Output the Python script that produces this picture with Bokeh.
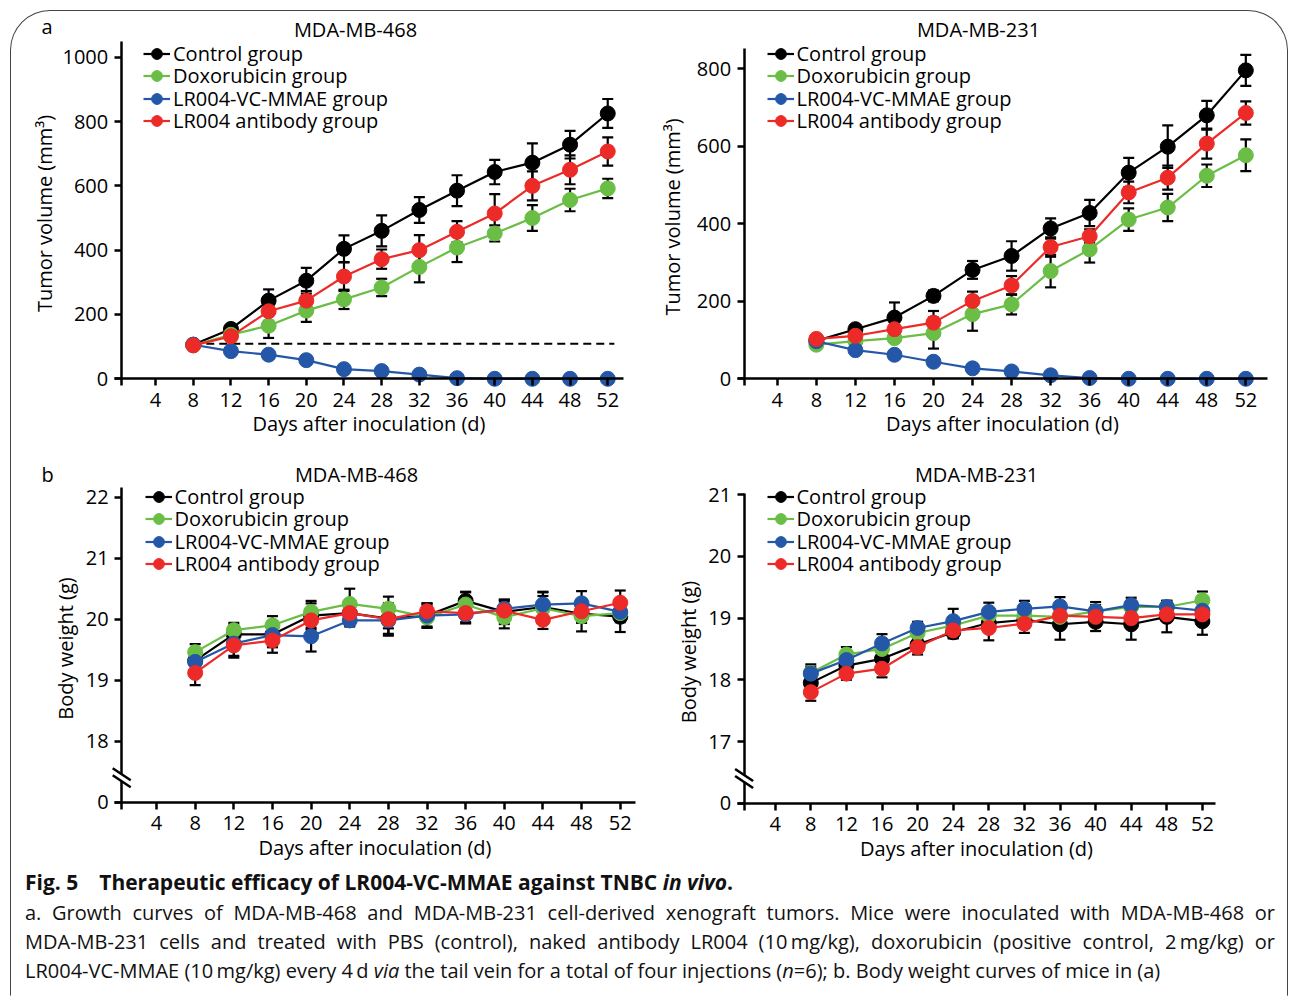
from bokeh.plotting import figure
from bokeh.models import (LinearAxis, FixedTicker, Label, Legend, LegendItem,
                          ColumnDataSource, Whisker, TeeHead, Div, Range1d, InlineStyleSheet)
from bokeh.layouts import column, row
from bokeh.embed import file_html
from bokeh.resources import INLINE

FONT = "Open Sans"

# ---------------- data ----------------
days = [8, 12, 16, 20, 24, 28, 32, 36, 40, 44, 48, 52]
x_ticks = [4, 8, 12, 16, 20, 24, 28, 32, 36, 40, 44, 48, 52]
group_names = ["Control group", "Doxorubicin group", "LR004-VC-MMAE group", "LR004 antibody group"]
group_colors = ["#000000", "#6abd45", "#2457a8", "#ec2a27"]

# a. Tumor volume, MDA-MB-468 (mm3): mean / error
tv468_control = [106, 155, 243, 305, 404, 460, 525, 585, 643, 672, 728, 825]
tv468_control_err = [6, 10, 35, 40, 42, 48, 40, 48, 38, 60, 43, 45]
tv468_dox = [104, 137, 165, 212, 247, 284, 348, 408, 452, 500, 556, 592]
tv468_dox_err = [5, 8, 38, 35, 30, 27, 48, 45, 25, 40, 35, 30]
tv468_adc = [106, 86, 75, 58, 30, 24, 13, 2, 0, 0, 0, 0]
tv468_adc_err = [4, 5, 5, 6, 4, 4, 3, 1, 0, 0, 0, 0]
tv468_ab = [104, 132, 210, 243, 318, 372, 400, 457, 514, 600, 650, 707]
tv468_ab_err = [5, 10, 30, 30, 45, 30, 47, 33, 60, 45, 45, 44]
tv468_baseline = 109

# a. Tumor volume, MDA-MB-231 (mm3)
tv231_control = [98, 128, 158, 214, 281, 317, 388, 428, 532, 599, 680, 796]
tv231_control_err = [5, 8, 39, 14, 23, 38, 26, 34, 38, 55, 37, 40]
tv231_dox = [88, 97, 105, 118, 167, 192, 278, 334, 411, 442, 524, 577]
tv231_dox_err = [4, 6, 10, 40, 43, 26, 42, 34, 29, 35, 29, 41]
tv231_adc = [97, 74, 62, 44, 27, 19, 9, 2, 0, 0, 0, 0]
tv231_adc_err = [4, 5, 5, 5, 4, 3, 2, 1, 0, 0, 0, 0]
tv231_ab = [103, 111, 128, 145, 201, 241, 340, 368, 481, 519, 607, 686]
tv231_ab_err = [5, 8, 10, 30, 24, 24, 25, 18, 28, 31, 39, 30]

# b. Body weight, MDA-MB-468 (g)
bw468_control = [19.32, 19.75, 19.75, 20.06, 20.10, 20.01, 20.06, 20.30, 20.12, 20.20, 20.09, 20.04]
bw468_control_err = [0.15, 0.15, 0.20, 0.20, 0.20, 0.25, 0.20, 0.15, 0.20, 0.25, 0.15, 0.25]
bw468_dox = [19.46, 19.82, 19.90, 20.12, 20.25, 20.17, 20.03, 20.24, 20.03, 20.18, 20.05, 20.10]
bw468_dox_err = [0.13, 0.12, 0.15, 0.18, 0.25, 0.20, 0.15, 0.20, 0.18, 0.20, 0.25, 0.15]
bw468_adc = [19.30, 19.60, 19.74, 19.72, 19.98, 19.98, 20.06, 20.08, 20.17, 20.24, 20.26, 20.12]
bw468_adc_err = [0.15, 0.20, 0.20, 0.25, 0.10, 0.25, 0.20, 0.15, 0.15, 0.20, 0.20, 0.15]
bw468_ab = [19.12, 19.57, 19.65, 19.98, 20.10, 20.00, 20.13, 20.10, 20.14, 19.99, 20.13, 20.27]
bw468_ab_err = [0.20, 0.20, 0.20, 0.15, 0.15, 0.15, 0.10, 0.15, 0.15, 0.15, 0.15, 0.20]

# b. Body weight, MDA-MB-231 (g)
bw231_control = [17.95, 18.23, 18.34, 18.57, 18.77, 18.92, 18.97, 18.90, 18.94, 18.90, 19.02, 18.95]
bw231_control_err = [0.12, 0.10, 0.12, 0.10, 0.10, 0.12, 0.12, 0.25, 0.15, 0.25, 0.25, 0.22]
bw231_dox = [18.11, 18.41, 18.50, 18.76, 18.88, 19.04, 19.04, 19.02, 19.11, 19.18, 19.18, 19.29]
bw231_dox_err = [0.10, 0.12, 0.10, 0.10, 0.12, 0.12, 0.10, 0.12, 0.10, 0.10, 0.10, 0.14]
bw231_adc = [18.10, 18.32, 18.59, 18.84, 18.95, 19.10, 19.15, 19.19, 19.11, 19.21, 19.18, 19.12]
bw231_adc_err = [0.15, 0.12, 0.15, 0.10, 0.20, 0.15, 0.13, 0.15, 0.15, 0.12, 0.10, 0.12]
bw231_ab = [17.80, 18.10, 18.18, 18.53, 18.80, 18.84, 18.91, 19.04, 19.02, 19.00, 19.06, 19.06]
bw231_ab_err = [0.14, 0.10, 0.14, 0.12, 0.12, 0.20, 0.15, 0.10, 0.12, 0.10, 0.10, 0.12]

tv468_ticks = [0, 200, 400, 600, 800, 1000]
tv231_ticks = [0, 200, 400, 600, 800]
bw468_ticks = [17, 18, 19, 20, 21, 22]     # 17 stands for the broken "0"
bw468_overrides = {17: "0"}
bw231_ticks = [16, 17, 18, 19, 20, 21]     # 16 stands for the broken "0"
bw231_overrides = {16: "0"}

TEXT_H = 27      # legend row height Bokeh uses for 20px Open Sans
ROW_STEP = 22.5  # distance between legend rows in the reference


def style_axis(ax, label_standoff, axis_label_standoff):
    ax.axis_line_width = 2.5
    ax.axis_line_color = "black"
    ax.major_tick_line_width = 2.5
    ax.major_tick_line_color = "black"
    ax.major_tick_out = 7
    ax.major_tick_in = 0
    ax.minor_tick_out = 0
    ax.minor_tick_in = 0
    ax.major_label_text_font = FONT
    ax.major_label_text_font_size = "20px"
    ax.major_label_text_color = "black"
    ax.major_label_standoff = label_standoff
    ax.axis_label_text_font = FONT
    ax.axis_label_text_font_size = "20px"
    ax.axis_label_text_font_style = "normal"
    ax.axis_label_text_color = "black"
    ax.axis_label_standoff = axis_label_standoff


def build_panel(fx, fy, W, H, x0px, xppu, y0px, y0val, yppu, axis_px, xright_px, ytop_px,
                y_ticks, y_overrides, y_label, ylab_standoff, title, title_px, letter, letter_px,
                series, legend_px, baseline=None, break_y=None):
    def dx(px):
        return (px - x0px) / xppu

    def dy(py):
        return y0val + (y0px - py) / yppu

    p = figure(width=W, height=H, x_range=Range1d(dx(fx), dx(fx + W)),
               y_range=Range1d(dy(fy + H), dy(fy)),
               x_axis_type=None, y_axis_type=None, toolbar_location=None, output_backend="svg",
               min_border=0, min_border_left=0, min_border_right=0,
               min_border_top=0, min_border_bottom=0)
    p.outline_line_color = None
    p.border_fill_color = None
    p.background_fill_color = None

    ax_x = dx(axis_px)
    xa = LinearAxis(fixed_location=y0val, ticker=FixedTicker(ticks=x_ticks),
                    bounds=(dx(axis_px - 7), dx(xright_px)),
                    axis_label="Days after inoculation (d)")
    style_axis(xa, 7, 0)
    p.add_layout(xa, "below")
    ya = LinearAxis(fixed_location=ax_x, ticker=FixedTicker(ticks=y_ticks),
                    bounds=(dy(y0px + 7), dy(ytop_px)), axis_label=y_label)
    if y_overrides:
        ya.major_label_overrides = y_overrides
    style_axis(ya, 6, ylab_standoff)
    p.add_layout(ya, "left")

    if baseline is not None:
        p.line([days[0], days[-1] + 0.7], [baseline, baseline], line_color="black",
               line_width=2, line_dash="8 5")

    items = []
    for name, color, vals, errs in series:
        src = ColumnDataSource(dict(x=days, y=vals,
                                    upper=[v + e for v, e in zip(vals, errs)],
                                    lower=[v - e for v, e in zip(vals, errs)]))
        w = Whisker(source=src, base="x", upper="upper", lower="lower",
                    line_color="black", line_width=2.2,
                    upper_head=TeeHead(size=11, line_color="black", line_width=2.2),
                    lower_head=TeeHead(size=11, line_color="black", line_width=2.2))
        p.add_layout(w)
        lr = p.line("x", "y", source=src, line_color=color, line_width=2.2)
        sr = p.scatter("x", "y", source=src, size=15, fill_color=color, line_color=color)
        items.append(LegendItem(label=name, renderers=[lr, sr]))

    # one single-row legend per group so the row pitch can match the reference
    gl_px, row1_py = legend_px
    for i, item in enumerate(items):
        row_center = row1_py + i * ROW_STEP
        leg = Legend(items=[item], location=(gl_px - fx, (fy + H) - (row_center + TEXT_H / 2)),
                     padding=0, margin=0, spacing=0, glyph_width=27,
                     glyph_height=TEXT_H, label_height=TEXT_H, label_standoff=3,
                     label_text_font=FONT, label_text_font_size="20px", label_text_color="black",
                     border_line_color=None, background_fill_alpha=0)
        p.add_layout(leg)

    p.add_layout(Label(x=dx(title_px[0]), y=dy(title_px[1]), text=title, text_align="center",
                       text_baseline="middle", text_font=FONT, text_font_size="20px",
                       text_color="black"))
    if letter:
        p.add_layout(Label(x=dx(letter_px[0]), y=dy(letter_px[1]), text=letter, text_align="center",
                           text_baseline="middle", text_font=FONT, text_font_size="20px",
                           text_color="black"))

    if break_y is not None:
        hw = 9 / xppu
        hh = 6 / yppu
        gap = 3.5 / yppu
        p.segment(x0=[ax_x], y0=[break_y - gap], x1=[ax_x], y1=[break_y + gap],
                  line_color="white", line_width=6, level="overlay")
        p.segment(x0=[ax_x - hw, ax_x - hw], y0=[break_y + gap + hh, break_y - gap + hh],
                  x1=[ax_x + hw, ax_x + hw], y1=[break_y + gap - hh, break_y - gap - hh],
                  line_color="black", line_width=2.5, level="overlay")
    return p


def pack(a, b, c, d):
    return list(zip(group_names, group_colors, [a[0], b[0], c[0], d[0]], [a[1], b[1], c[1], d[1]]))


pA1 = build_panel(0, 0, 640, 448, 117.4, 9.42, 378.3, 0, 0.3216, 120.7, 622.5, 40.7,
                  tv468_ticks, None, "Tumor volume (mm\u00b3)", 2, "MDA-MB-468", (355, 29), "a", (46.5, 26),
                  pack((tv468_control, tv468_control_err), (tv468_dox, tv468_dox_err),
                       (tv468_adc, tv468_adc_err), (tv468_ab, tv468_ab_err)),
                  (143, 53), baseline=tv468_baseline)

pA2 = build_panel(640, 0, 648, 448, 737.8, 9.76, 378.3, 0, 0.3875, 743.6, 1267, 48.3,
                  tv231_ticks, None, "Tumor volume (mm\u00b3)", 8, "MDA-MB-231", (978, 29), None, None,
                  pack((tv231_control, tv231_control_err), (tv231_dox, tv231_dox_err),
                       (tv231_adc, tv231_adc_err), (tv231_ab, tv231_ab_err)),
                  (766.5, 53))

pB1 = build_panel(0, 448, 640, 418, 117.4, 9.66, 801.7, 17, 61.0, 121.2, 635, 486.7,
                  bw468_ticks, bw468_overrides, "Body weight (g)", 4, "MDA-MB-468", (356, 474), "b", (47, 474),
                  pack((bw468_control, bw468_control_err), (bw468_dox, bw468_dox_err),
                       (bw468_adc, bw468_adc_err), (bw468_ab, bw468_ab_err)),
                  (144.6, 496), break_y=17.4)

pB2 = build_panel(640, 448, 648, 418, 739.1, 8.9, 802.7, 16, 61.7, 743.6, 1214.7, 493.3,
                  bw231_ticks, bw231_overrides, "Body weight (g)", 4, "MDA-MB-231", (976, 474), None, None,
                  pack((bw231_control, bw231_control_err), (bw231_dox, bw231_dox_err),
                       (bw231_adc, bw231_adc_err), (bw231_ab, bw231_ab_err)),
                  (766.5, 496), break_y=16.4)

line_style = ("display:block; width:1250px; font-size:20px; line-height:29px; "
              "text-align:justify; text-align-last:justify;")
caption_html = (
    '<div style="display:block; width:1250px; font-family:\'Open Sans\'; color:#111; padding:2px 13px 0 25px;">'
    '<div style="font-weight:bold; font-size:21px; line-height:29px; height:30px; white-space:nowrap;">'
    'Fig. 5&ensp;&ensp;Therapeutic efficacy of LR004-VC-MMAE against TNBC <i>in vivo</i>.</div>'
    '<div style="' + line_style + '">a. Growth curves of MDA-MB-468 and MDA-MB-231 cell-derived xenograft '
    'tumors. Mice were inoculated with MDA-MB-468 or</div>'
    '<div style="' + line_style + '">MDA-MB-231 cells and treated with PBS (control), naked antibody LR004 '
    '(10&thinsp;mg/kg), doxorubicin (positive control, 2&thinsp;mg/kg) or</div>'
    '<div style="font-size:20px; line-height:29px; white-space:nowrap;">LR004-VC-MMAE (10&thinsp;mg/kg) every 4&thinsp;d '
    '<i>via</i> the tail vein for a total of four injections (<i>n</i>=6); b. Body weight curves of mice in (a)</div>'
    '</div>'
)
caption = Div(text=caption_html, width=1288, height=130, margin=0)

frame_css = InlineStyleSheet(css="""
:host::before {
  content: "";
  position: absolute;
  left: 10px; top: 10px; right: 0px; bottom: 0px;
  border: 1.5px solid #444;
  border-bottom-color: transparent;
  border-radius: 40px 40px 0 0;
  pointer-events: none;
}
""")

layout = column(row(pA1, pA2), row(pB1, pB2), caption, stylesheets=[frame_css])

open("out.html", "w").write(file_html(layout, INLINE))
